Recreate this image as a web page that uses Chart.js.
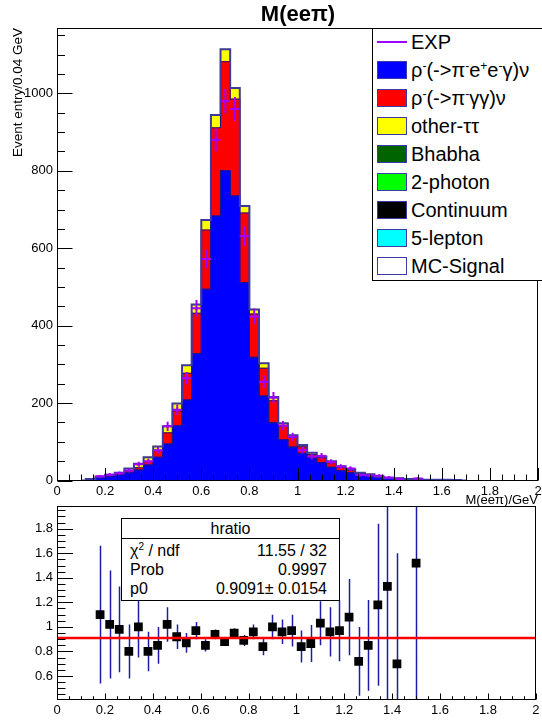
<!DOCTYPE html>
<html>
<head>
<meta charset="utf-8">
<script src="https://cdn.jsdelivr.net/npm/chart.js@4.4.1/dist/chart.umd.min.js"></script>
<style>
  body { margin: 0; background: #fff; }
  #wrap { position: relative; width: 542px; height: 720px; overflow: hidden; background: #fff; font-family: "Liberation Sans", Arial, sans-serif; color: #000; }
  canvas { position: absolute; left: 0; }
  #title { position: absolute; left: 0; width: 596px; top: 1px; text-align: center; font-weight: bold; font-size: 22px; line-height: 26px; }
  #legend { position: absolute; left: 372px; top: 28px; width: 180px; height: 253px; border: 1px solid #000; background: #fff; box-sizing: border-box; }
  .lr { position: absolute; left: 0; height: 28px; width: 178px; }
  .sw { position: absolute; left: 4px; top: 5px; width: 30px; height: 18px; box-sizing: border-box; border: 1px solid #3a3aa8; }
  .ln { position: absolute; left: 4px; top: 13px; width: 30px; height: 2px; background: #a000ff; }
  .lt { position: absolute; left: 38px; top: 1px; font-size: 20px; line-height: 26px; white-space: nowrap; }
  .lt sup { font-size: 12px; vertical-align: 7px; line-height: 0; }
  #stats { position: absolute; left: 121px; top: 518px; width: 219px; height: 83px; border: 1px solid #000; background: #fff; box-sizing: border-box; font-size: 16px; }
  #stats .hd { position: absolute; left: 0; right: 0; top: 0; height: 19px; border-bottom: 1px solid #000; text-align: center; line-height: 19px; }
  #stats .sr { position: absolute; left: 8px; right: 12px; height: 19px; line-height: 19px; }
  #stats .sr .k { position: absolute; left: 0; }
  #stats .sr .v { position: absolute; right: 0; }
  #stats sup { font-size: 10px; vertical-align: 6px; line-height: 0; }
</style>
</head>
<body>
<div id="wrap">
  <canvas id="cTop" width="542" height="508" style="top:0;width:542px;height:508px"></canvas>
  <canvas id="cBot" width="542" height="220" style="top:500px;width:542px;height:220px"></canvas>
  <div id="title">M(eeπ)</div>
  <div id="legend"></div>
  <div id="stats">
    <div class="hd">hratio</div>
    <div class="sr" style="top:22px"><span class="k">χ<sup>2</sup> / ndf</span><span class="v">11.55 / 32</span></div>
    <div class="sr" style="top:41px"><span class="k">Prob</span><span class="v">0.9997</span></div>
    <div class="sr" style="top:60px"><span class="k">p0</span><span class="v">0.9091± 0.0154</span></div>
  </div>
</div>
<script>
// ---------------- data ----------------
const binCenters = [0.10,0.14,0.18,0.22,0.26,0.30,0.34,0.38,0.42,0.46,0.50,0.54,0.58,0.62,0.66,0.70,0.74,0.78,0.82,0.86,0.90,0.94,0.98,1.02,1.06,1.10,1.14,1.18,1.22,1.26,1.30,1.34,1.38,1.42,1.46,1.50,1.54,1.58,1.62,1.66,1.70];
const rhoEEG   = [0,3,7,10,14,20,27,40,60,94,141,208,328,494,683,800,735,511,318,218,149,105,86,70,58,46,34,25,20,16,12,8.5,5,5,3.5,3,2,2,1,1.5,0];
const rhoGG    = [0,0.5,2,3,3,5,6,9,18,29,39,69,104,153,228,282,250,180,112,72,57,36,26,17,9,13,12,9,7,3,3,1,0.7,0.7,0.3,0.3,0,0,1,0,0];
const otherTT  = [0,0.5,1,2,3,6,10,11,10,17,19,21,23,26,33,32,29,18,12,13,10,7,5,5,5,3,4,3,2,1,1,0.5,0.3,0.3,0.2,0,0,0,0,0,0];
const expCounts = [null,null,11,15,19,26,42,50,78,140,183,264,445,572,880,980,960,631,424,255,214,142,113,78,62,63,48,36,31,14,13,12,8,4,null,5,null,null,null,null,null];
const expErr    = [null,null,3.3,3.9,4.4,5.1,6.5,7.1,8.8,11.8,13.5,16.2,21.1,23.9,29.7,31.3,31.0,25.1,20.6,16.0,14.6,11.9,10.6,8.8,7.9,7.9,6.9,6.0,5.6,3.7,3.6,3.5,2.8,2.0,null,2.2,null,null,null,null,null];

const ratioX   = [0.18,0.22,0.26,0.30,0.34,0.38,0.42,0.46,0.50,0.54,0.58,0.62,0.66,0.70,0.74,0.78,0.82,0.86,0.90,0.94,0.98,1.02,1.06,1.10,1.14,1.18,1.22,1.26,1.30,1.34,1.38,1.42,1.50];
const ratioY   = [1.10,1.02,0.98,0.80,1.00,0.80,0.85,1.02,0.92,0.87,0.97,0.85,0.94,0.88,0.95,0.89,0.96,0.84,1.00,0.96,0.97,0.84,0.865,1.03,0.96,0.97,1.08,0.72,0.85,1.18,1.33,0.70,1.52];
const ratioErr = [0.56,0.44,0.35,0.22,0.25,0.16,0.15,0.14,0.10,0.08,0.07,0.05,0.04,0.035,0.04,0.045,0.06,0.07,0.10,0.10,0.13,0.13,0.15,0.18,0.20,0.25,0.31,0.28,0.37,0.66,1.0,0.9,1.2];
const fitP0 = 0.9091;

const xTickVals = [0,0.2,0.4,0.6,0.8,1,1.2,1.4,1.6,1.8,2];
const yTopTicks = [0,200,400,600,800,1000];
const yRatioTicks = [0.6,0.8,1,1.2,1.4,1.6,1.8];

const legendLabels = ['EXP','ρ<sup>-</sup>(->π<sup>-</sup>e<sup>+</sup>e<sup>-</sup>γ)ν','ρ<sup>-</sup>(->π<sup>-</sup>γγ)ν','other-ττ','Bhabha','2-photon','Continuum','5-lepton','MC-Signal'];
const legendColors = [null,'#0000ff','#ff0000','#ffff00','#006400','#00ff00','#000000','#00ffff','#ffffff'];

// ---------------- styles ----------------
const EXP_COLOR = '#a000ff';
const BIN_HALF = 0.02;
const FONT = "'Liberation Sans', Arial, sans-serif";

// legend (HTML)
const lg = document.getElementById('legend');
legendLabels.forEach((t, i) => {
  const r = document.createElement('div');
  r.className = 'lr';
  r.style.top = (-1.5 + 28 * i) + 'px';
  r.innerHTML = (legendColors[i] === null ? '<span class="ln"></span>' :
    '<span class="sw" style="background:' + legendColors[i] + '"></span>') +
    '<span class="lt">' + t + '</span>';
  lg.appendChild(r);
});

const xy = (xs, ys) => xs.map((x, i) => ({x: x, y: ys[i]}));
// cumulative levels of the stack (for the histogram contour lines)
const levelBlue = rhoEEG.slice();
const levelRed  = binCenters.map((_, i) => rhoEEG[i] + rhoGG[i]);
const mcTotal   = binCenters.map((_, i) => rhoEEG[i] + rhoGG[i] + otherTT[i]);

// ---------------- plugins ----------------
const rootFrame = {
  id: 'rootFrame',
  afterDraw(chart, args, o) {
    const {ctx, chartArea: a} = chart;
    const xs = chart.scales.x, ys = chart.scales.y;
    ctx.save();
    ctx.strokeStyle = '#000';
    ctx.lineWidth = 1;
    const L = Math.round(a.left) + 0.5, R = Math.round(a.right) - 0.5;
    const T = Math.round(a.top) + 0.5, B = Math.round(a.bottom) - 0.5;
    ctx.strokeRect(L, T, R - L, B - T);
    ctx.beginPath();
    for (let k = 0; ; k++) {
      const v = o.x.start + k * o.x.minor;
      if (v > o.x.end + 1e-9) break;
      const q = v / o.x.major, major = Math.abs(q - Math.round(q)) < 1e-6;
      const px = Math.round(xs.getPixelForValue(v)) + 0.5;
      ctx.moveTo(px, B); ctx.lineTo(px, B - (major ? o.x.majLen : o.x.minLen));
    }
    for (let k = 0; ; k++) {
      const v = o.y.start + k * o.y.minor;
      if (v > o.y.end + 1e-9) break;
      const q = v / o.y.major, major = Math.abs(q - Math.round(q)) < 1e-6;
      const py = Math.round(ys.getPixelForValue(v)) + 0.5;
      ctx.moveTo(L, py); ctx.lineTo(L + (major ? o.y.majLen : o.y.minLen), py);
    }
    ctx.stroke();
    ctx.restore();
  }
};

const expCross = {
  id: 'expCross',
  afterDatasetsDraw(chart) {
    const {ctx} = chart;
    const xs = chart.scales.x, ys = chart.scales.y;
    ctx.save();
    ctx.strokeStyle = EXP_COLOR;
    ctx.lineWidth = 2;
    ctx.beginPath();
    binCenters.forEach((c, i) => {
      const v = expCounts[i];
      if (v === null) return;
      const e = expErr[i];
      const y = ys.getPixelForValue(v), xc = xs.getPixelForValue(c);
      ctx.moveTo(xs.getPixelForValue(c - BIN_HALF), y);
      ctx.lineTo(xs.getPixelForValue(c + BIN_HALF), y);
      ctx.moveTo(xc, ys.getPixelForValue(v + e));
      ctx.lineTo(xc, ys.getPixelForValue(v - e));
    });
    ctx.stroke();
    ctx.restore();
  }
};

const ratioErrBars = {
  id: 'ratioErrBars',
  beforeDatasetsDraw(chart) {
    const {ctx, chartArea: a} = chart;
    const xs = chart.scales.x, ys = chart.scales.y;
    ctx.save();
    ctx.beginPath();
    ctx.rect(a.left, a.top, a.right - a.left, a.bottom - a.top);
    ctx.clip();
    ctx.strokeStyle = '#1c1ca8';
    ctx.lineWidth = 1.5;
    ctx.beginPath();
    ratioX.forEach((x, i) => {
      const px = Math.round(xs.getPixelForValue(x)) + 0.5;
      ctx.moveTo(px, ys.getPixelForValue(ratioY[i] + ratioErr[i]));
      ctx.lineTo(px, ys.getPixelForValue(ratioY[i] - ratioErr[i]));
    });
    ctx.stroke();
    ctx.restore();
  }
};

const tickFont = {family: FONT, size: 13};
function xAxis(height, withTitle) {
  return {
    type: 'linear', min: 0, max: 2, stacked: true, offset: false,
    grid: {display: false, drawTicks: false, offset: false},
    border: {display: false},
    ticks: {font: tickFont, color: '#000', padding: 3, maxRotation: 0, autoSkip: false,
            callback: v => String(v)},
    afterBuildTicks: s => { s.ticks = xTickVals.map(v => ({value: v})); },
    afterFit: s => { s.height = height; s.paddingLeft = 0; s.paddingRight = 0; },
    title: withTitle ? {display: true, text: 'M(eeπ)/GeV', align: 'end', color: '#000',
            font: {family: FONT, size: 13}, padding: {top: 0, bottom: 0}} : {display: false}
  };
}

const barStyle = {stack: 'mc', borderWidth: 0, barPercentage: 1, categoryPercentage: 1, inflateAmount: 0.6};
const contour = (label, vals, stack, color, width) => ({
  type: 'line', label: label, data: xy(binCenters, vals), stack: stack, stepped: 'middle',
  borderColor: color, borderWidth: width, pointRadius: 0, fill: false
});

// ---------------- top chart ----------------
const TOP_H = 508, TOP_AREA_TOP = 28, TOP_AREA_BOTTOM = 480.5;
new Chart(document.getElementById('cTop'), {
  type: 'bar',
  data: {
    datasets: [
      {type: 'line', label: 'EXP', data: xy(binCenters, expCounts), stack: 'exp',
       showLine: false, pointRadius: 1.5, pointBackgroundColor: EXP_COLOR, pointBorderWidth: 0},
      contour('MC-Signal', mcTotal, 'c3', '#3a3aa0', 2),
      contour('level red', levelRed, 'c2', '#1a1a80', 1),
      contour('level blue', levelBlue, 'c1', '#1a1a80', 1),
      Object.assign({label: 'ρ-(->π-e+e-γ)ν', data: xy(binCenters, rhoEEG), backgroundColor: '#0000ff'}, barStyle),
      Object.assign({label: 'ρ-(->π-γγ)ν', data: xy(binCenters, rhoGG), backgroundColor: '#ff0000'}, barStyle),
      Object.assign({label: 'other-ττ', data: xy(binCenters, otherTT), backgroundColor: '#ffff00'}, barStyle)
    ]
  },
  options: {
    responsive: false, animation: false, devicePixelRatio: 1,
    layout: {padding: {top: TOP_AREA_TOP, right: 1, left: 0, bottom: 0}},
    plugins: {legend: {display: false}, tooltip: {enabled: false}, title: {display: false},
      rootFrame: {x: {start: 0, end: 2, minor: 0.05, major: 0.2, majLen: 12.5, minLen: 6},
                  y: {start: 0, end: 1150, minor: 50, major: 200, majLen: 15, minLen: 7.5}}},
    scales: {
      x: xAxis(TOP_H - TOP_AREA_BOTTOM, true),
      y: {
        type: 'linear', min: 0, max: 1169, stacked: true,
        grid: {display: false, drawTicks: false}, border: {display: false},
        ticks: {font: tickFont, color: '#000', padding: 4, callback: v => String(v)},
        afterBuildTicks: s => { s.ticks = yTopTicks.map(v => ({value: v})); },
        afterFit: s => { s.width = 57; s.paddingTop = 0; s.paddingBottom = 0; },
        title: {display: true, text: 'Event entry/0.04 GeV', align: 'end', color: '#000',
                font: {family: FONT, size: 13.5}, padding: {top: 10, bottom: 0}}
      }
    }
  },
  plugins: [expCross, rootFrame]
});

// ---------------- ratio chart ----------------
const BOT_H = 220, BOT_AREA_TOP = 5.8, BOT_AREA_BOTTOM = 199.5;
new Chart(document.getElementById('cBot'), {
  type: 'line',
  data: {
    datasets: [
      {label: 'fit', data: [{x: 0, y: fitP0}, {x: 2, y: fitP0}], borderColor: '#ff0000', borderWidth: 2.5,
       pointRadius: 0, fill: false},
      {label: 'hratio', data: xy(ratioX, ratioY), showLine: false, pointStyle: 'rect', pointRadius: 6.2,
       pointBackgroundColor: '#000', pointBorderWidth: 0}
    ]
  },
  options: {
    responsive: false, animation: false, devicePixelRatio: 1,
    layout: {padding: {top: BOT_AREA_TOP, right: 1, left: 0, bottom: 0}},
    plugins: {legend: {display: false}, tooltip: {enabled: false},
      rootFrame: {x: {start: 0, end: 2, minor: 0.05, major: 0.2, majLen: 6, minLen: 3.3},
                  y: {start: 0.45, end: 1.95, minor: 0.05, major: 0.2, majLen: 15.5, minLen: 8}}},
    scales: {
      x: xAxis(BOT_H - BOT_AREA_BOTTOM, false),
      y: {
        type: 'linear', min: 0.409, max: 1.983,
        grid: {display: false, drawTicks: false}, border: {display: false},
        ticks: {font: tickFont, color: '#000', padding: 4, callback: v => String(v)},
        afterBuildTicks: s => { s.ticks = yRatioTicks.map(v => ({value: v})); },
        afterFit: s => { s.width = 57; s.paddingTop = 0; s.paddingBottom = 0; }
      }
    }
  },
  plugins: [ratioErrBars, rootFrame]
});
</script>
</body>
</html>
